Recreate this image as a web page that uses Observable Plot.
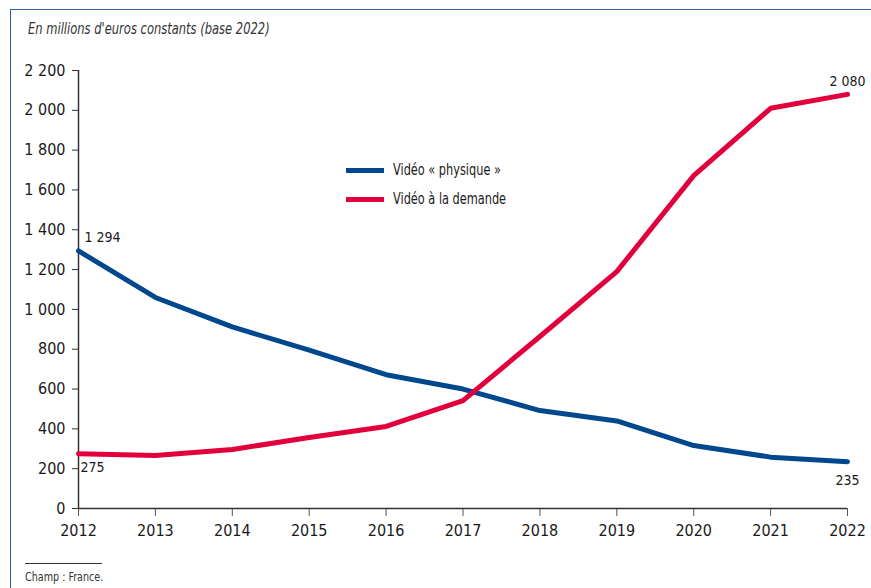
<!DOCTYPE html>
<html>
<head>
<meta charset="utf-8">
<script src="https://cdn.jsdelivr.net/npm/d3@7"></script>
<script src="https://cdn.jsdelivr.net/npm/@observablehq/plot@0.6"></script>
<style>
  body { margin: 0; background: #fff; }
  #wrap { position: relative; width: 871px; height: 588px; overflow: hidden;
          font-family: "Liberation Sans Narrow", "DejaVu Sans Condensed", "Roboto", sans-serif; color: #1a1a1a; }
  #frame { position: absolute; left: 10px; top: 9px; right: -2px; bottom: -2px;
           border-left: 1.5px solid #2b5f9e; border-top: 1.5px solid #2b5f9e; }
  #title { position: absolute; left: 28px; top: 19px; font-style: italic; font-size: 16px; color: #333;
           transform: scaleX(0.8); transform-origin: left center; white-space: nowrap; }
  #chart { position: absolute; left: 0; top: 50px; }
  .leg { position: absolute; left: 346px; font-size: 15px; display: flex; align-items: center; white-space: nowrap; }
  .leg span.sw { display: inline-block; width: 38px; height: 5px; margin-right: 9px; }
  .leg span.tx { display: inline-block; transform: scaleX(0.84); transform-origin: left center; }
  #capline { position: absolute; left: 25px; top: 563px; width: 77px; border-top: 1px solid #333; }
  #caption { position: absolute; left: 25px; top: 569px; font-size: 13px; color: #333;
             transform: scaleX(0.82); transform-origin: left center; white-space: nowrap; }
</style>
</head>
<body>
<div id="wrap">
  <div id="frame"></div>
  <div id="title">En millions d'euros constants (base 2022)</div>
  <div id="chart"></div>
  <div class="leg" style="top:161px"><span class="sw" style="background:#00488e"></span><span class="tx">Vidéo « physique »</span></div>
  <div class="leg" style="top:190px"><span class="sw" style="background:#e2003c"></span><span class="tx">Vidéo à la demande</span></div>
  <div id="capline"></div>
  <div id="caption">Champ : France.</div>
</div>
<script>
const years = [2012, 2013, 2014, 2015, 2016, 2017, 2018, 2019, 2020, 2021, 2022];
const physique = [1294, 1060, 912, 795, 672, 600, 492, 440, 316, 258, 235];
const demande = [275, 266, 296, 357, 412, 542, 864, 1190, 1672, 2010, 2080];
const yTicks = [0, 200, 400, 600, 800, 1000, 1200, 1400, 1600, 1800, 2000, 2200];

const labelYears = [2012, 2012, 2022, 2022];
const labelValues = [1294, 275, 235, 2080];
const labelTexts = ["1 294", "275", "235", "2 080"];
const labelAnchor = ["start", "start", "middle", "middle"];
const labelDx = [6, 2, 0, 0];
const labelDy = [-13, 14, 19, -13];

const fmt = d => d3.format(",")(d).replace(/,/g, " ");

const phys = years.map((y, i) => ({year: y, value: physique[i]}));
const dem = years.map((y, i) => ({year: y, value: demande[i]}));
const labs = labelYears.map((y, i) => ({year: y, value: labelValues[i], text: labelTexts[i], a: labelAnchor[i], dx: labelDx[i], dy: labelDy[i]}));

const textMarks = labs.map(l => Plot.text([l], {x: "year", y: "value", text: "text", textAnchor: l.a, dx: l.dx, dy: l.dy, fontSize: 14, fill: "#1a1a1a"}));

const chart = Plot.plot({
  width: 871,
  height: 500,
  marginLeft: 78,
  marginRight: 24,
  marginTop: 20,
  marginBottom: 42,
  style: {fontFamily: '"Liberation Sans Narrow", "DejaVu Sans Condensed", "Roboto", sans-serif', fontSize: "16px", color: "#1a1a1a", background: "transparent"},
  x: {domain: [2012, 2022]},
  y: {domain: [0, 2200]},
  marks: [
    Plot.axisX({ticks: years, tickFormat: "d", tickSize: 8, tickPadding: 8, label: null, stroke: "#555"}),
    Plot.axisY({ticks: yTicks, tickFormat: fmt, tickSize: 6, tickPadding: 7, label: null, stroke: "#333"}),
    Plot.ruleY([0], {stroke: "#333", strokeWidth: 1.5}),
    Plot.ruleX([2012], {stroke: "#333", strokeWidth: 1.5}),
    Plot.line(phys, {x: "year", y: "value", stroke: "#00488e", strokeWidth: 5, strokeLinejoin: "round"}),
    Plot.line(dem, {x: "year", y: "value", stroke: "#e2003c", strokeWidth: 5, strokeLinejoin: "round"}),
    ...textMarks
  ]
});
document.getElementById("chart").appendChild(chart);
</script>
</body>
</html>
